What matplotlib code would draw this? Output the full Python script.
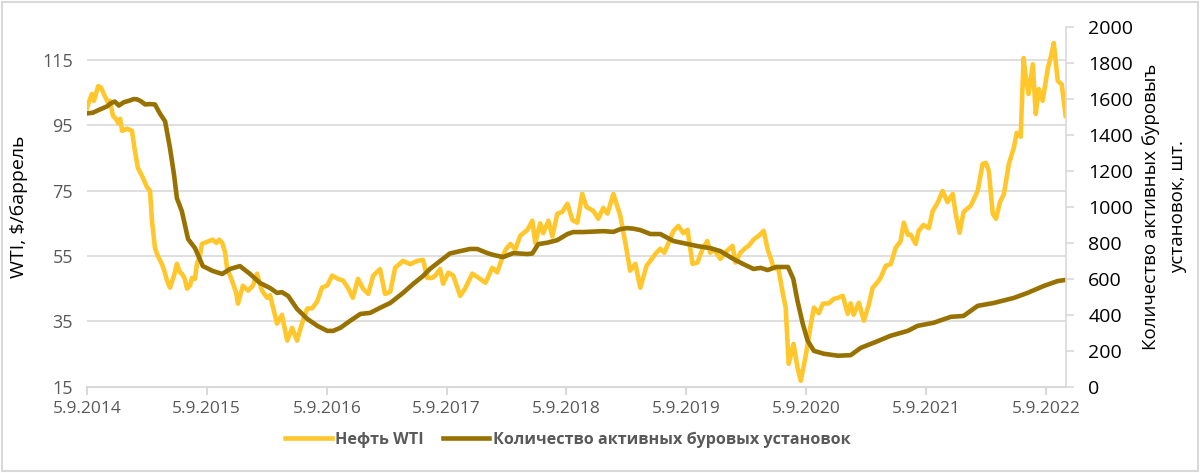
import pandas as pd
import matplotlib.pyplot as plt
from matplotlib.lines import Line2D

plt.rcParams['font.family'] = ['Open Sans', 'DejaVu Sans']

# WTI, $/barrel
wti_dates = [
    "2014-09-05", "2014-09-14", "2014-09-20", "2014-09-26", "2014-10-09", "2014-10-18", "2014-10-29",
    "2014-11-08", "2014-11-14", "2014-11-23", "2014-12-02", "2014-12-09", "2014-12-15", "2014-12-21",
    "2015-01-05", "2015-01-20", "2015-01-29", "2015-02-07", "2015-02-22", "2015-03-07", "2015-03-16",
    "2015-03-22", "2015-03-31", "2015-04-09", "2015-04-21", "2015-04-30", "2015-05-07", "2015-05-16",
    "2015-05-28", "2015-06-06", "2015-06-15", "2015-06-21", "2015-06-30", "2015-07-07", "2015-07-16",
    "2015-07-22", "2015-07-31", "2015-08-06", "2015-08-15", "2015-08-21", "2015-09-05", "2015-09-23",
    "2015-10-04", "2015-10-13", "2015-10-22", "2015-10-31", "2015-11-06", "2015-11-15", "2015-11-24",
    "2015-12-03", "2015-12-09", "2015-12-24", "2016-01-09", "2016-01-24", "2016-02-05", "2016-02-20",
    "2016-03-07", "2016-03-16", "2016-03-22", "2016-04-06", "2016-04-21", "2016-05-07", "2016-05-22",
    "2016-06-06", "2016-06-21", "2016-07-07", "2016-07-22", "2016-08-06", "2016-08-21", "2016-09-06",
    "2016-09-21", "2016-10-09", "2016-10-24", "2016-11-08", "2016-11-23", "2016-12-09", "2016-12-24",
    "2017-01-09", "2017-01-24", "2017-02-14", "2017-03-01", "2017-03-17", "2017-04-01", "2017-04-25",
    "2017-05-17", "2017-06-07", "2017-06-25", "2017-07-08", "2017-07-23", "2017-08-01", "2017-08-16",
    "2017-08-25", "2017-09-10", "2017-09-25", "2017-10-16", "2017-10-31", "2017-11-22", "2017-12-16",
    "2018-01-01", "2018-01-22", "2018-02-06", "2018-02-21", "2018-03-04", "2018-03-18", "2018-04-02",
    "2018-04-17", "2018-05-09", "2018-05-24", "2018-06-02", "2018-06-17", "2018-06-26", "2018-07-12",
    "2018-07-24", "2018-08-08", "2018-08-23", "2018-09-08", "2018-09-23", "2018-10-08", "2018-10-23",
    "2018-11-05", "2018-11-26", "2018-12-11", "2018-12-26", "2019-01-08", "2019-01-26", "2019-02-16",
    "2019-03-04", "2019-03-18", "2019-04-03", "2019-04-18", "2019-05-07", "2019-05-25", "2019-06-06",
    "2019-06-18", "2019-06-30", "2019-07-13", "2019-07-28", "2019-08-12", "2019-08-27", "2019-09-09",
    "2019-09-24", "2019-10-09", "2019-10-24", "2019-11-08", "2019-11-17", "2019-11-29", "2019-12-18",
    "2020-01-06", "2020-01-24", "2020-02-02", "2020-02-17", "2020-03-04", "2020-03-13", "2020-03-28",
    "2020-04-13", "2020-04-28", "2020-05-10", "2020-05-19", "2020-05-28", "2020-06-12", "2020-06-25",
    "2020-07-04", "2020-07-13", "2020-07-28", "2020-08-09", "2020-08-19", "2020-09-04", "2020-09-19",
    "2020-09-28", "2020-10-13", "2020-10-25", "2020-11-12", "2020-11-28", "2020-12-10", "2020-12-25",
    "2021-01-09", "2021-01-18", "2021-01-27", "2021-02-12", "2021-02-27", "2021-03-14", "2021-03-26",
    "2021-04-10", "2021-04-19", "2021-05-05", "2021-05-20", "2021-06-04", "2021-06-19", "2021-06-29",
    "2021-07-11", "2021-07-20", "2021-08-04", "2021-08-13", "2021-08-28", "2021-09-13", "2021-09-25",
    "2021-10-10", "2021-10-25", "2021-11-09", "2021-11-25", "2021-12-04", "2021-12-16", "2021-12-28",
    "2022-01-19", "2022-02-09", "2022-02-24", "2022-03-06", "2022-03-15", "2022-03-27", "2022-04-06",
    "2022-04-18", "2022-04-30", "2022-05-15", "2022-05-30", "2022-06-08", "2022-06-20", "2022-06-29",
    "2022-07-05", "2022-07-14", "2022-07-27", "2022-08-05", "2022-08-14", "2022-08-26", "2022-09-11",
    "2022-09-20", "2022-09-29", "2022-10-11", "2022-10-23", "2022-11-04",
]
wti_values = [
    100.3, 103.0, 104.6, 102.5, 107.0, 106.5, 104.0,
    102.0, 102.5, 97.9, 97.0, 95.7, 97.0, 93.3,
    94.0, 93.3, 87.2, 82.0, 79.0, 76.0, 75.0,
    65.8, 57.5, 55.0, 52.6, 50.0, 47.4, 45.3,
    49.0, 52.6, 50.0, 49.6, 48.0, 45.0, 46.0,
    48.3, 48.0, 52.6, 55.0, 58.7, 59.3, 60.0,
    59.0, 60.0, 59.0, 56.0, 51.0, 49.0, 46.5,
    44.0, 40.4, 45.9, 44.4, 46.0, 49.6, 44.4,
    42.2, 43.0, 40.4, 34.3, 37.0, 29.1, 33.0,
    29.1, 34.3, 38.9, 39.0, 41.0, 45.3, 46.0,
    49.0, 48.0, 47.5, 45.3, 42.2, 48.0, 45.0,
    43.4, 49.0, 51.0, 43.4, 44.0, 51.4, 53.5,
    52.5, 53.5, 53.8, 48.3, 48.3, 49.0, 51.0,
    46.5, 49.9, 49.0, 42.8, 45.0, 49.6, 48.0,
    46.8, 51.4, 50.0, 54.4, 57.0, 58.7, 57.0,
    61.2, 63.0, 65.8, 59.0, 65.0, 62.0, 65.8,
    61.0, 67.9, 68.5, 71.0, 66.0, 65.2, 74.0,
    70.0, 68.8, 66.4, 69.7, 68.0, 74.0, 67.3,
    58.7, 50.5, 52.6, 45.3, 52.0, 54.4, 56.0,
    57.2, 56.0, 59.0, 62.7, 64.2, 62.0, 63.0,
    52.6, 53.0, 57.0, 59.6, 56.0, 57.0, 54.1,
    56.5, 58.1, 53.0, 56.0, 57.5, 58.1, 60.0,
    61.2, 62.7, 57.0, 54.4, 51.4, 51.0, 43.7,
    39.2, 22.0, 28.1, 20.8, 16.8, 25.0, 34.3,
    39.2, 37.5, 40.4, 40.5, 41.9, 42.2, 42.8,
    37.3, 40.5, 37.0, 40.7, 35.2, 40.0, 45.3,
    47.0, 48.3, 52.0, 52.5, 57.5, 59.5, 65.2,
    61.5, 61.5, 58.7, 62.7, 64.5, 63.5, 68.8,
    71.3, 74.9, 71.5, 74.0, 67.9, 62.1, 68.5,
    70.4, 74.9, 83.2, 83.5, 81.0, 67.9, 66.4,
    71.5, 74.0, 83.2, 88.1, 92.7, 91.5, 115.6,
    110.0, 104.6, 113.7, 98.5, 106.1, 102.5, 112.6,
    116.0, 120.2, 108.6, 107.5, 97.9,
]

# active drilling rigs, units
rig_dates = [
    "2014-09-05", "2014-09-23", "2014-10-14", "2014-11-05", "2014-11-17", "2014-11-29", "2014-12-11",
    "2014-12-26", "2015-01-14", "2015-01-26", "2015-02-05", "2015-02-17", "2015-03-01", "2015-03-16",
    "2015-03-31", "2015-04-15", "2015-05-01", "2015-05-16", "2015-05-28", "2015-06-06", "2015-06-21",
    "2015-07-10", "2015-07-31", "2015-08-24", "2015-09-23", "2015-10-22", "2015-11-15", "2015-12-15",
    "2016-01-15", "2016-02-14", "2016-03-16", "2016-04-06", "2016-04-21", "2016-05-10", "2016-06-06",
    "2016-07-07", "2016-08-07", "2016-09-06", "2016-09-24", "2016-10-16", "2016-11-15", "2016-12-16",
    "2017-01-15", "2017-02-14", "2017-03-17", "2017-04-25", "2017-05-26", "2017-06-25", "2017-07-16",
    "2017-08-16", "2017-09-15", "2017-10-16", "2017-11-15", "2017-12-07", "2018-01-07", "2018-01-25",
    "2018-02-24", "2018-03-27", "2018-05-09", "2018-05-24", "2018-06-11", "2018-07-09", "2018-08-08",
    "2018-09-08", "2018-09-26", "2018-10-26", "2018-12-26", "2019-01-26", "2019-02-16", "2019-03-09",
    "2019-03-27", "2019-04-18", "2019-05-19", "2019-06-18", "2019-07-28", "2019-09-03", "2019-10-09",
    "2019-11-17", "2019-12-18", "2020-01-27", "2020-02-27", "2020-03-28", "2020-04-19", "2020-05-10",
    "2020-06-05", "2020-07-11", "2020-07-27", "2020-08-09", "2020-08-25", "2020-09-09", "2020-09-28",
    "2020-10-28", "2020-12-10", "2021-01-18", "2021-02-18", "2021-03-29", "2021-05-20", "2021-07-11",
    "2021-08-10", "2021-09-28", "2021-11-19", "2021-12-28", "2022-02-09", "2022-03-30", "2022-05-30",
    "2022-07-11", "2022-08-30", "2022-10-11", "2022-11-04",
]
rig_values = [
    1518, 1522, 1540, 1557, 1575, 1584, 1562,
    1580, 1590, 1598, 1596, 1585, 1568, 1570,
    1568, 1518, 1474, 1324, 1180, 1047, 975,
    820, 770, 670, 643, 626, 654, 670,
    626, 576, 548, 521, 525, 504, 432,
    377, 338, 310, 310, 327, 366, 404,
    410, 438, 465, 521, 571, 615, 654,
    698, 740, 753, 765, 765, 742, 732,
    720, 742, 737, 740, 792, 800, 814,
    848, 859, 859, 864, 860, 875, 881,
    878, 870, 848, 848, 809, 795, 781,
    770, 753, 709, 680, 654, 660, 648,
    665, 665, 600, 476, 349, 255, 199,
    183, 172, 175, 216, 244, 283, 310,
    338, 355, 388, 393, 449, 465, 493,
    521, 560, 587, 593,
]

tick_dates = ["2014-09-05", "2015-09-05", "2016-09-05", "2017-09-05", "2018-09-05",
              "2019-09-05", "2020-09-05", "2021-09-05", "2022-09-05"]
tick_labels = ["5.9.2014", "5.9.2015", "5.9.2016", "5.9.2017", "5.9.2018",
               "5.9.2019", "5.9.2020", "5.9.2021", "5.9.2022"]
wti_ticks = [15, 35, 55, 75, 95, 115]
rig_ticks = list(range(0, 2001, 200))

yellow = "#FFC72C"
brown = "#977200"
gray_txt = "#595959"
grid_col = "#D9D9D9"

fig = plt.figure(figsize=(12, 4.73), dpi=100)
ax = fig.add_axes([0.0725, 0.1825, 0.8158, 0.7611])
ax2 = ax.twinx()

ax.plot(pd.to_datetime(wti_dates), wti_values, color=yellow, lw=3.3, solid_joinstyle="round")
ax2.plot(pd.to_datetime(rig_dates), rig_values, color=brown, lw=3.3, solid_joinstyle="round")

ax.set_xlim(pd.Timestamp("2014-09-05"), pd.Timestamp("2022-11-05"))
ax.set_ylim(15, 125.2)
ax2.set_ylim(0, 2000)

ax.set_yticks(wti_ticks)
ax.set_xticks(pd.to_datetime(tick_dates))
ax.set_xticklabels(tick_labels)
ax2.set_yticks(rig_ticks)

ax.grid(axis="y", color=grid_col, lw=1.2)
ax.set_axisbelow(True)

for a in (ax, ax2):
    for s in ("top", "left"):
        a.spines[s].set_visible(False)
ax.spines["right"].set_visible(False)
ax.spines["bottom"].set_color(grid_col)
ax.spines["bottom"].set_linewidth(1.5)
ax2.spines["bottom"].set_visible(False)
ax2.spines["right"].set_color(grid_col)
ax2.spines["right"].set_linewidth(1.2)

ax.tick_params(axis="y", length=0, labelsize=13, labelcolor=gray_txt, pad=10)
ax.tick_params(axis="x", length=6, width=1.5, color=grid_col, labelsize=12.5,
               labelcolor=gray_txt, pad=4)
ax2.tick_params(axis="y", length=6, width=1.2, color=grid_col, labelsize=14,
                labelcolor="black", pad=10)

ax.set_ylabel("WTI, $/баррель", fontsize=14, labelpad=10)
ax2.set_ylabel("Количество активных буровыъ\nустановок, шт.", fontsize=13.5,
               labelpad=6, linespacing=1.65)

handles = [Line2D([], [], color=yellow, lw=3.3), Line2D([], [], color=brown, lw=3.3)]
fig.legend(handles, ["Нефть WTI", "Количество активных буровых установок"],
           loc="center", bbox_to_anchor=(0.473, 0.07), ncol=2, frameon=False,
           handlelength=2.9, handletextpad=0.2, columnspacing=1.2,
           prop={"size": 11.6, "weight": "bold"}, labelcolor=gray_txt)

fig.patches.append(plt.Rectangle((0.002, 0.004), 0.996, 0.992, transform=fig.transFigure,
                                 fill=False, edgecolor=grid_col, lw=1.5))

fig.savefig("out.png", dpi=100)
